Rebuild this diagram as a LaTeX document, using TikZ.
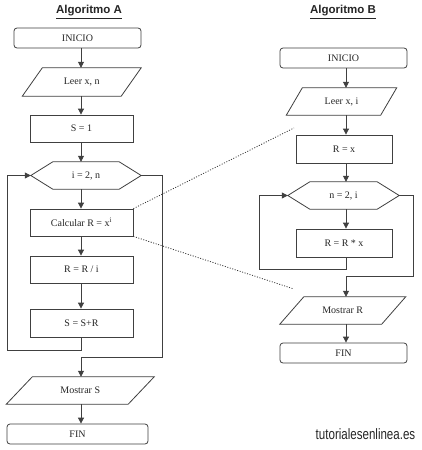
\documentclass[tikz,border=0pt]{standalone}
\usepackage{fontspec}
\setmainfont{Liberation Serif}
\newfontfamily\arialf{Liberation Sans}
\usetikzlibrary{arrows.meta,calc}
\begin{document}
\begin{tikzpicture}[x=1pt,y=-1pt,
  ln/.style={line width=0.8pt, draw=black!75},
  arr/.style={ln, -{Triangle[length=6pt,width=6pt]}},
  txt/.style={text=black!85, font=\fontsize{10}{12}\selectfont, inner sep=0pt},
  term/.style={txt, ln, rectangle, rounded corners=3pt},
  proc/.style={txt, ln, rectangle},
  hid/.style={txt, rectangle},
  ttl/.style={font=\arialf\bfseries\fontsize{11.5}{13}\selectfont, text=black!85},
  dots/.style={line width=0.8pt, draw=black!80, dash pattern=on 1pt off 1.6pt}
]
\useasboundingbox[fill=white] (0,0) rectangle (422,450);

% titles
\node[ttl] (tA) at (89,12) {\underline{Algoritmo A}};
\node[ttl] (tB) at (343,12) {\underline{Algoritmo B}};

\coordinate (colA) at (81,0);
\coordinate (colB) at (346,0);

% ---------- Algoritmo A ----------
\node[term, minimum width=127pt, minimum height=20pt] (inA) at (77.5,38) {INICIO};
\node[hid, minimum width=98.5pt, minimum height=28pt] (leerA) at (81.75,82) {Leer x, n};
\draw[ln] ([xshift=10pt]leerA.north west) -- ([xshift=10pt]leerA.north east) -- ([xshift=-10pt]leerA.south east) -- ([xshift=-10pt]leerA.south west) -- cycle;
\node[proc, minimum width=103pt, minimum height=27pt] (s1A) at (81.5,128.5) {S = 1};
\node[hid, minimum width=110pt, minimum height=27pt] (hexA) at (86,175.5) {i = 2, n};
\draw[ln] (hexA.west) -- ([xshift=22pt]hexA.north west) -- ([xshift=-22pt]hexA.north east) -- (hexA.east) -- ([xshift=-22pt]hexA.south east) -- ([xshift=22pt]hexA.south west) -- cycle;
\node[proc, minimum width=103pt, minimum height=27pt] (calcA) at (81.5,222.5) {Calcular R = x\textsuperscript{i}};
\node[proc, minimum width=103pt, minimum height=27pt] (rriA) at (81.5,269.5) {R = R / i};
\node[proc, minimum width=103pt, minimum height=28pt] (ssA) at (81.5,323) {S = S+R};
\node[hid, minimum width=121.5pt, minimum height=27pt] (mosA) at (80.25,390.5) {Mostrar S};
\draw[ln] ([xshift=13pt]mosA.north west) -- ([xshift=13pt]mosA.north east) -- ([xshift=-13pt]mosA.south east) -- ([xshift=-13pt]mosA.south west) -- cycle;
\node[term, minimum width=141pt, minimum height=20pt] (finA) at (77.5,434) {FIN};

\draw[arr] (inA.south -| colA) -- (leerA.north -| colA);
\draw[arr] (leerA.south -| colA) -- (s1A.north -| colA);
\draw[arr] (s1A.south -| colA) -- (hexA.north -| colA);
\draw[arr] (hexA.south -| colA) -- (calcA.north -| colA);
\draw[arr] (calcA.south -| colA) -- (rriA.north -| colA);
\draw[arr] (rriA.south -| colA) -- (ssA.north -| colA);
\coordinate (loopA) at (7,350);
\draw[arr] (ssA.south -| colA) -- (colA |- loopA) -- (loopA) |- (hexA.west);
\coordinate (exitA) at (162,357);
\draw[arr] (hexA.east) -| (exitA) -- (exitA -| colA) -- (mosA.north -| colA);
\draw[arr] (mosA.south -| colA) -- (finA.north -| colA);

% ---------- Algoritmo B ----------
\node[term, minimum width=127pt, minimum height=20pt] (inB) at (343.5,58) {INICIO};
\node[hid, minimum width=94pt, minimum height=27pt] (leerB) at (341.5,101.5) {Leer x, i};
\draw[ln] ([xshift=8pt]leerB.north west) -- ([xshift=8pt]leerB.north east) -- ([xshift=-8pt]leerB.south east) -- ([xshift=-8pt]leerB.south west) -- cycle;
\node[proc, minimum width=96pt, minimum height=28pt] (rxB) at (344,149) {R = x};
\node[hid, minimum width=111pt, minimum height=27pt] (hexB) at (343.5,195.5) {n = 2, i};
\draw[ln] (hexB.west) -- ([xshift=22pt]hexB.north west) -- ([xshift=-22pt]hexB.north east) -- (hexB.east) -- ([xshift=-22pt]hexB.south east) -- ([xshift=22pt]hexB.south west) -- cycle;
\node[proc, minimum width=96pt, minimum height=28pt] (rrxB) at (344,243) {R = R * x};
\node[hid, minimum width=101.5pt, minimum height=27pt] (mosB) at (342.75,310.5) {Mostrar R};
\draw[ln] ([xshift=12pt]mosB.north west) -- ([xshift=12pt]mosB.north east) -- ([xshift=-12pt]mosB.south east) -- ([xshift=-12pt]mosB.south west) -- cycle;
\node[term, minimum width=127pt, minimum height=20pt] (finB) at (343.5,353) {FIN};

\draw[arr] (inB.south -| colB) -- (leerB.north -| colB);
\draw[arr] (leerB.south -| colB) -- (rxB.north -| colB);
\draw[arr] (rxB.south -| colB) -- (hexB.north -| colB);
\draw[arr] (hexB.south -| colB) -- (rrxB.north -| colB);
\coordinate (loopB) at (259,269);
\draw[arr] (rrxB.south -| colB) -- (colB |- loopB) -- (loopB) |- (hexB.west);
\coordinate (exitB) at (413,276);
\draw[arr] (hexB.east) -| (exitB) -- (exitB -| colB) -- (mosB.north -| colB);
\draw[arr] (mosB.south -| colB) -- (finB.north -| colB);

% dotted links
\coordinate (d1) at (294,128);
\coordinate (d2) at (294,289);
\draw[dots] (calcA.north east) -- (d1);
\draw[dots] (calcA.south east) -- (d2);

% watermark
\node[font=\arialf\fontsize{15}{15}\selectfont, text=black!85, inner sep=0pt] (wm) at (365.5,434) {\scalebox{0.77}[1]{tutorialesenlinea.es}};
\end{tikzpicture}
\end{document}
